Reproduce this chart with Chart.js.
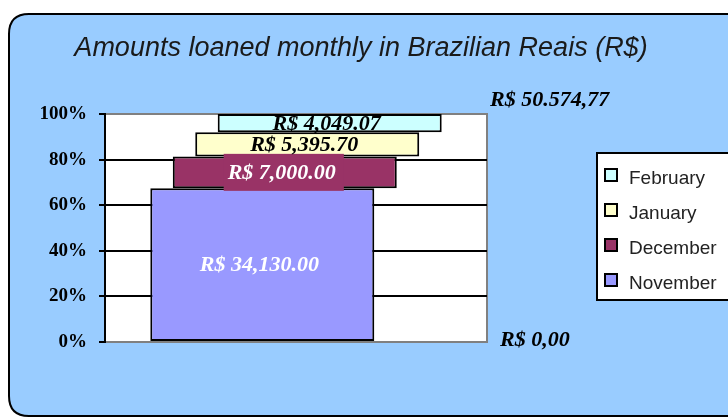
<!DOCTYPE html>
<html><head><meta charset="utf-8">
<script src="https://cdn.jsdelivr.net/npm/chart.js@4"></script>
<style>html,body{margin:0;padding:0;background:#fff}canvas{display:block}</style>
</head><body>
<canvas id="c" width="728" height="417"></canvas>
<script>
const titleText = 'Amounts loaned monthly in Brazilian Reais (R$)';
const months = ['November', 'December', 'January', 'February'];
const amounts = [34130.00, 7000.00, 5395.70, 4049.07];
const amountLabels = ['R$ 34,130.00', 'R$ 7,000.00', 'R$ 5,395.70', 'R$ 4,049.07'];
const totalLabels = ['R$ 50.574,77', 'R$ 0,00'];
const yTicks = [0, 20, 40, 60, 80, 100];
const colors = ['#9999FF', '#993366', '#FFFFCC', '#CCFFFF'];
const labelColors = ['#FFFFFF', '#FFFFFF', '#000000', '#000000'];

const total = amounts.reduce((a, b) => a + b, 0);
let cum = 0;
const datasets = months.map((m, i) => {
  const start = cum / total * 100;
  cum += amounts[i];
  const end = cum / total * 100;
  return {
    label: m,
    data: [{ x: i, y: [start, end] }],
    backgroundColor: colors[i],
    borderColor: '#000',
    borderWidth: 2,
    borderSkipped: false,
    labelColor: labelColors[i],
    labelText: amountLabels[i],
    labelBox: i === 1
  };
});

function roundRect(ctx, x, y, w, h, r) {
  ctx.beginPath();
  ctx.moveTo(x + r, y);
  ctx.lineTo(x + w - r, y);
  ctx.quadraticCurveTo(x + w, y, x + w, y + r);
  ctx.lineTo(x + w, y + h - r);
  ctx.quadraticCurveTo(x + w, y + h, x + w - r, y + h);
  ctx.lineTo(x + r, y + h);
  ctx.quadraticCurveTo(x, y + h, x, y + h - r);
  ctx.lineTo(x, y + r);
  ctx.quadraticCurveTo(x, y, x + r, y);
  ctx.closePath();
}

const deco = {
  id: 'deco',
  beforeDraw(chart) {
    const ctx = chart.ctx, a = chart.chartArea;
    ctx.save();
    ctx.fillStyle = '#fff';
    ctx.fillRect(0, 0, chart.width, chart.height);
    roundRect(ctx, 9, 14, 760, 402, 20);
    ctx.fillStyle = '#99CCFF';
    ctx.fill();
    ctx.strokeStyle = '#000';
    ctx.lineWidth = 2;
    ctx.stroke();
    ctx.fillStyle = '#fff';
    ctx.fillRect(a.left, a.top, a.right - a.left, a.bottom - a.top);
    ctx.strokeStyle = '#808080';
    ctx.lineWidth = 2;
    ctx.strokeRect(a.left, a.top, a.right - a.left, a.bottom - a.top);
    ctx.restore();
  },
  afterDatasetsDraw(chart) {
    const ctx = chart.ctx;
    ctx.save();
    ctx.font = 'italic bold 22px "Liberation Serif"';
    ctx.textAlign = 'center';
    ctx.textBaseline = 'middle';
    chart.data.datasets.forEach((ds, i) => {
      const el = chart.getDatasetMeta(i).data[0];
      const cx = el.x, cy = (el.y + el.base) / 2;
      if (ds.labelBox) {
        const w = ctx.measureText(ds.labelText).width;
        ctx.fillStyle = ds.backgroundColor;
        ctx.fillRect(cx - w / 2 - 7, cy - 18.5, w + 12, 37);
      }
      ctx.fillStyle = ds.labelColor;
      ctx.fillText(ds.labelText, cx - 3, cy + 1);
    });
    ctx.restore();
  },
  afterDraw(chart) {
    const ctx = chart.ctx, a = chart.chartArea, y = chart.scales.y;
    ctx.save();
    // title
    ctx.font = 'italic 27px "Liberation Sans"';
    ctx.fillStyle = '#1a1a1a';
    ctx.textAlign = 'center';
    ctx.textBaseline = 'alphabetic';
    ctx.fillText(titleText, 361, 56);
    // side labels
    ctx.font = 'italic bold 22px "Liberation Serif"';
    ctx.fillStyle = '#000';
    ctx.textAlign = 'left';
    ctx.textBaseline = 'middle';
    ctx.fillText(totalLabels[0], a.right + 3, y.getPixelForValue(100) - 14);
    ctx.fillText(totalLabels[1], a.right + 13, y.getPixelForValue(0) - 2);
    // legend
    const lx = 597, ly = 153, lw = 140, lh = 147;
    ctx.fillStyle = '#fff';
    ctx.fillRect(lx, ly, lw, lh);
    ctx.strokeStyle = '#000';
    ctx.lineWidth = 2;
    ctx.strokeRect(lx, ly, lw, lh);
    ctx.font = '19px "Liberation Sans"';
    const dsets = chart.data.datasets;
    for (let k = 0; k < dsets.length; k++) {
      const ds = dsets[dsets.length - 1 - k];
      const cy = 175 + k * 35;
      ctx.fillStyle = ds.backgroundColor;
      ctx.fillRect(605, cy - 6, 12, 12);
      ctx.lineWidth = 2;
      ctx.strokeStyle = '#000';
      ctx.strokeRect(605, cy - 6, 12, 12);
      ctx.fillStyle = '#222';
      ctx.textBaseline = 'alphabetic';
      ctx.fillText(ds.label, 629, cy + 9);
    }
    ctx.restore();
  }
};

new Chart(document.getElementById('c'), {
  type: 'bar',
  data: { datasets },
  options: {
    responsive: false,
    animation: false,
    devicePixelRatio: 1,
    layout: { padding: { left: 0, right: 241, top: 114, bottom: 75 } },
    datasets: { bar: { grouped: false, barPercentage: 20, categoryPercentage: 1, maxBarThickness: 224 } },
    plugins: { legend: { display: false }, tooltip: { enabled: false }, title: { display: false } },
    scales: {
      x: { type: 'linear', min: -7, max: 10, offset: false, display: false, ticks: { stepSize: 1 } },
      y: {
        min: 0, max: 100,
        afterFit(s) { s.width = 105; },
        afterBuildTicks(s) { s.ticks = yTicks.map(v => ({ value: v })); },
        ticks: {
          stepSize: 20,
          padding: 12,
          color: '#000',
          font: { family: '"Liberation Serif"', size: 19, weight: 'bold' },
          callback: v => v + '%'
        },
        grid: {
          color: c => (c.tick && (c.tick.value === 0 || c.tick.value === 100)) ? '#808080' : '#000',
          tickColor: '#000',
          lineWidth: 2,
          tickLength: 6
        },
        border: { color: '#000', width: 2 }
      }
    }
  },
  plugins: [deco]
});
</script>
</body></html>
